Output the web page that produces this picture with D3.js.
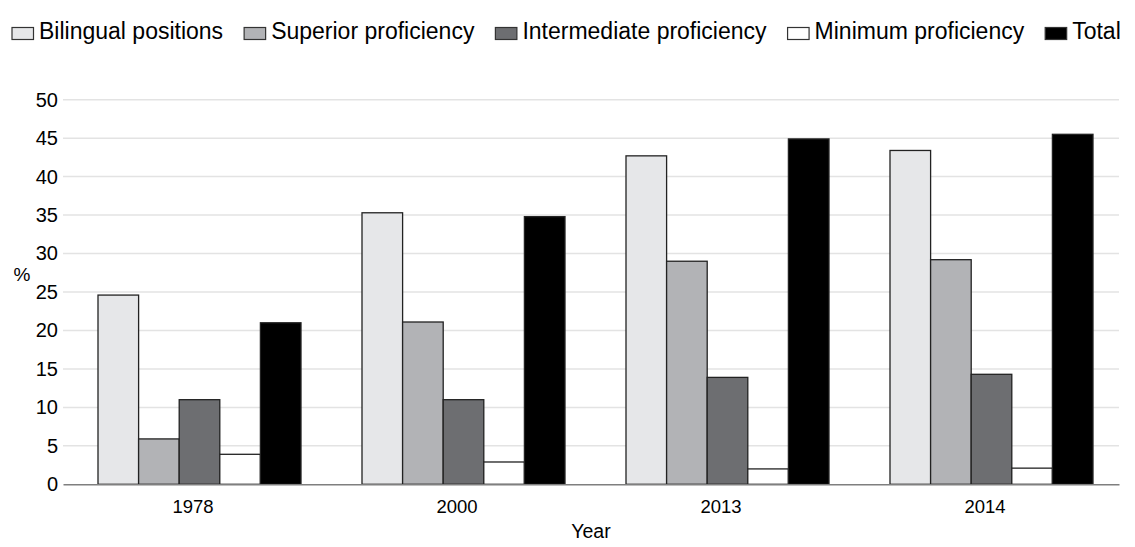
<!DOCTYPE html>
<html>
<head>
<meta charset="utf-8">
<script src="https://cdn.jsdelivr.net/npm/d3@7"></script>
<style>
  html, body { margin: 0; padding: 0; background: #fff; }
  svg { display: block; font-family: Arial, "Liberation Sans", sans-serif; }
</style>
</head>
<body>
<svg id="chart" width="1135" height="547"></svg>
<script>
const years = ["1978", "2000", "2013", "2014"];
const seriesNames = ["Bilingual positions", "Superior proficiency", "Intermediate proficiency", "Minimum proficiency", "Total"];
const bilingual    = [24.6, 35.3, 42.7, 43.4];
const superior     = [5.9, 21.1, 29.0, 29.2];
const intermediate = [11.0, 11.0, 13.9, 14.3];
const minimum      = [3.9, 2.9, 2.0, 2.1];
const total        = [21.0, 34.8, 44.9, 45.5];
const yTicks = [0, 5, 10, 15, 20, 25, 30, 35, 40, 45, 50];

(function () {
const seriesValues = [bilingual, superior, intermediate, minimum, total];
const fills = ["#e6e7e9", "#b2b3b6", "#6d6e71", "#ffffff", "#000000"];

const svg = d3.select("#chart");
const pLeft = 63, pRight = 1119, pTop = 99.7, pBottom = 484.3;

const x0 = d3.scaleBand().domain(years).range([pLeft, pRight]).paddingInner(0).paddingOuter(0);
const groupStart = 35, groupEnd = 238;
const x1 = d3.scaleBand().domain(seriesNames).range([groupStart, groupEnd]).padding(0);
const y = d3.scaleLinear().domain([0, 50]).range([pBottom, pTop]);

// gridlines
svg.append("g")
  .selectAll("line")
  .data(yTicks.filter(t => t > 0))
  .join("line")
  .attr("x1", pLeft).attr("x2", pRight)
  .attr("y1", d => y(d)).attr("y2", d => y(d))
  .attr("stroke", "#e3e3e3").attr("stroke-width", 1.5);

// y axis labels
const yAxis = d3.axisLeft(y).tickValues(yTicks).tickSize(0).tickPadding(5).tickFormat(d3.format("d"));
const yg = svg.append("g").attr("transform", `translate(${pLeft},0)`).call(yAxis);
yg.select(".domain").remove();
yg.selectAll("text").attr("font-size", 20).attr("fill", "#000").attr("font-family", "Arial, 'Liberation Sans', sans-serif");

// bars
const groups = svg.append("g").selectAll("g")
  .data(years)
  .join("g")
  .attr("transform", d => `translate(${x0(d)},0)`);

groups.selectAll("rect")
  .data((d, i) => seriesNames.map((s, k) => ({ s, k, v: seriesValues[k][i] })))
  .join("rect")
  .attr("x", d => x1(d.s))
  .attr("width", x1.bandwidth())
  .attr("y", d => y(d.v))
  .attr("height", d => y(0) - y(d.v))
  .attr("fill", d => fills[d.k])
  .attr("stroke", "#222")
  .attr("stroke-width", 1.3);

// x axis
const xAxis = d3.axisBottom(x0).tickSize(0).tickPadding(16);
const xg = svg.append("g").attr("transform", `translate(0,${pBottom})`).call(xAxis);
xg.select(".domain").attr("stroke", "#7f7f7f").attr("stroke-width", 1.6);
xg.selectAll("text").attr("font-size", 18.5).attr("fill", "#000").attr("dx", -2)
  .attr("font-family", "Arial, 'Liberation Sans', sans-serif");

// axis titles
svg.append("text").attr("x", 22).attr("y", 281).attr("text-anchor", "middle")
  .attr("font-size", 19).attr("fill", "#000").text("%");
svg.append("text").attr("x", 591).attr("y", 538).attr("text-anchor", "middle")
  .attr("font-size", 19.5).attr("fill", "#000").text("Year");

// legend
const legend = svg.append("g");
let lx = 12;
seriesNames.forEach((name, k) => {
  legend.append("rect")
    .attr("x", lx).attr("y", 27.5).attr("width", 21.5).attr("height", 12)
    .attr("fill", fills[k]).attr("stroke", "#333").attr("stroke-width", 1.2);
  const t = legend.append("text")
    .attr("x", lx + 27).attr("y", 39)
    .attr("font-size", 23).attr("fill", "#000").text(name);
  const w = t.node().getComputedTextLength();
  lx = lx + 27 + w + 21;
});
})();
</script>
</body>
</html>
